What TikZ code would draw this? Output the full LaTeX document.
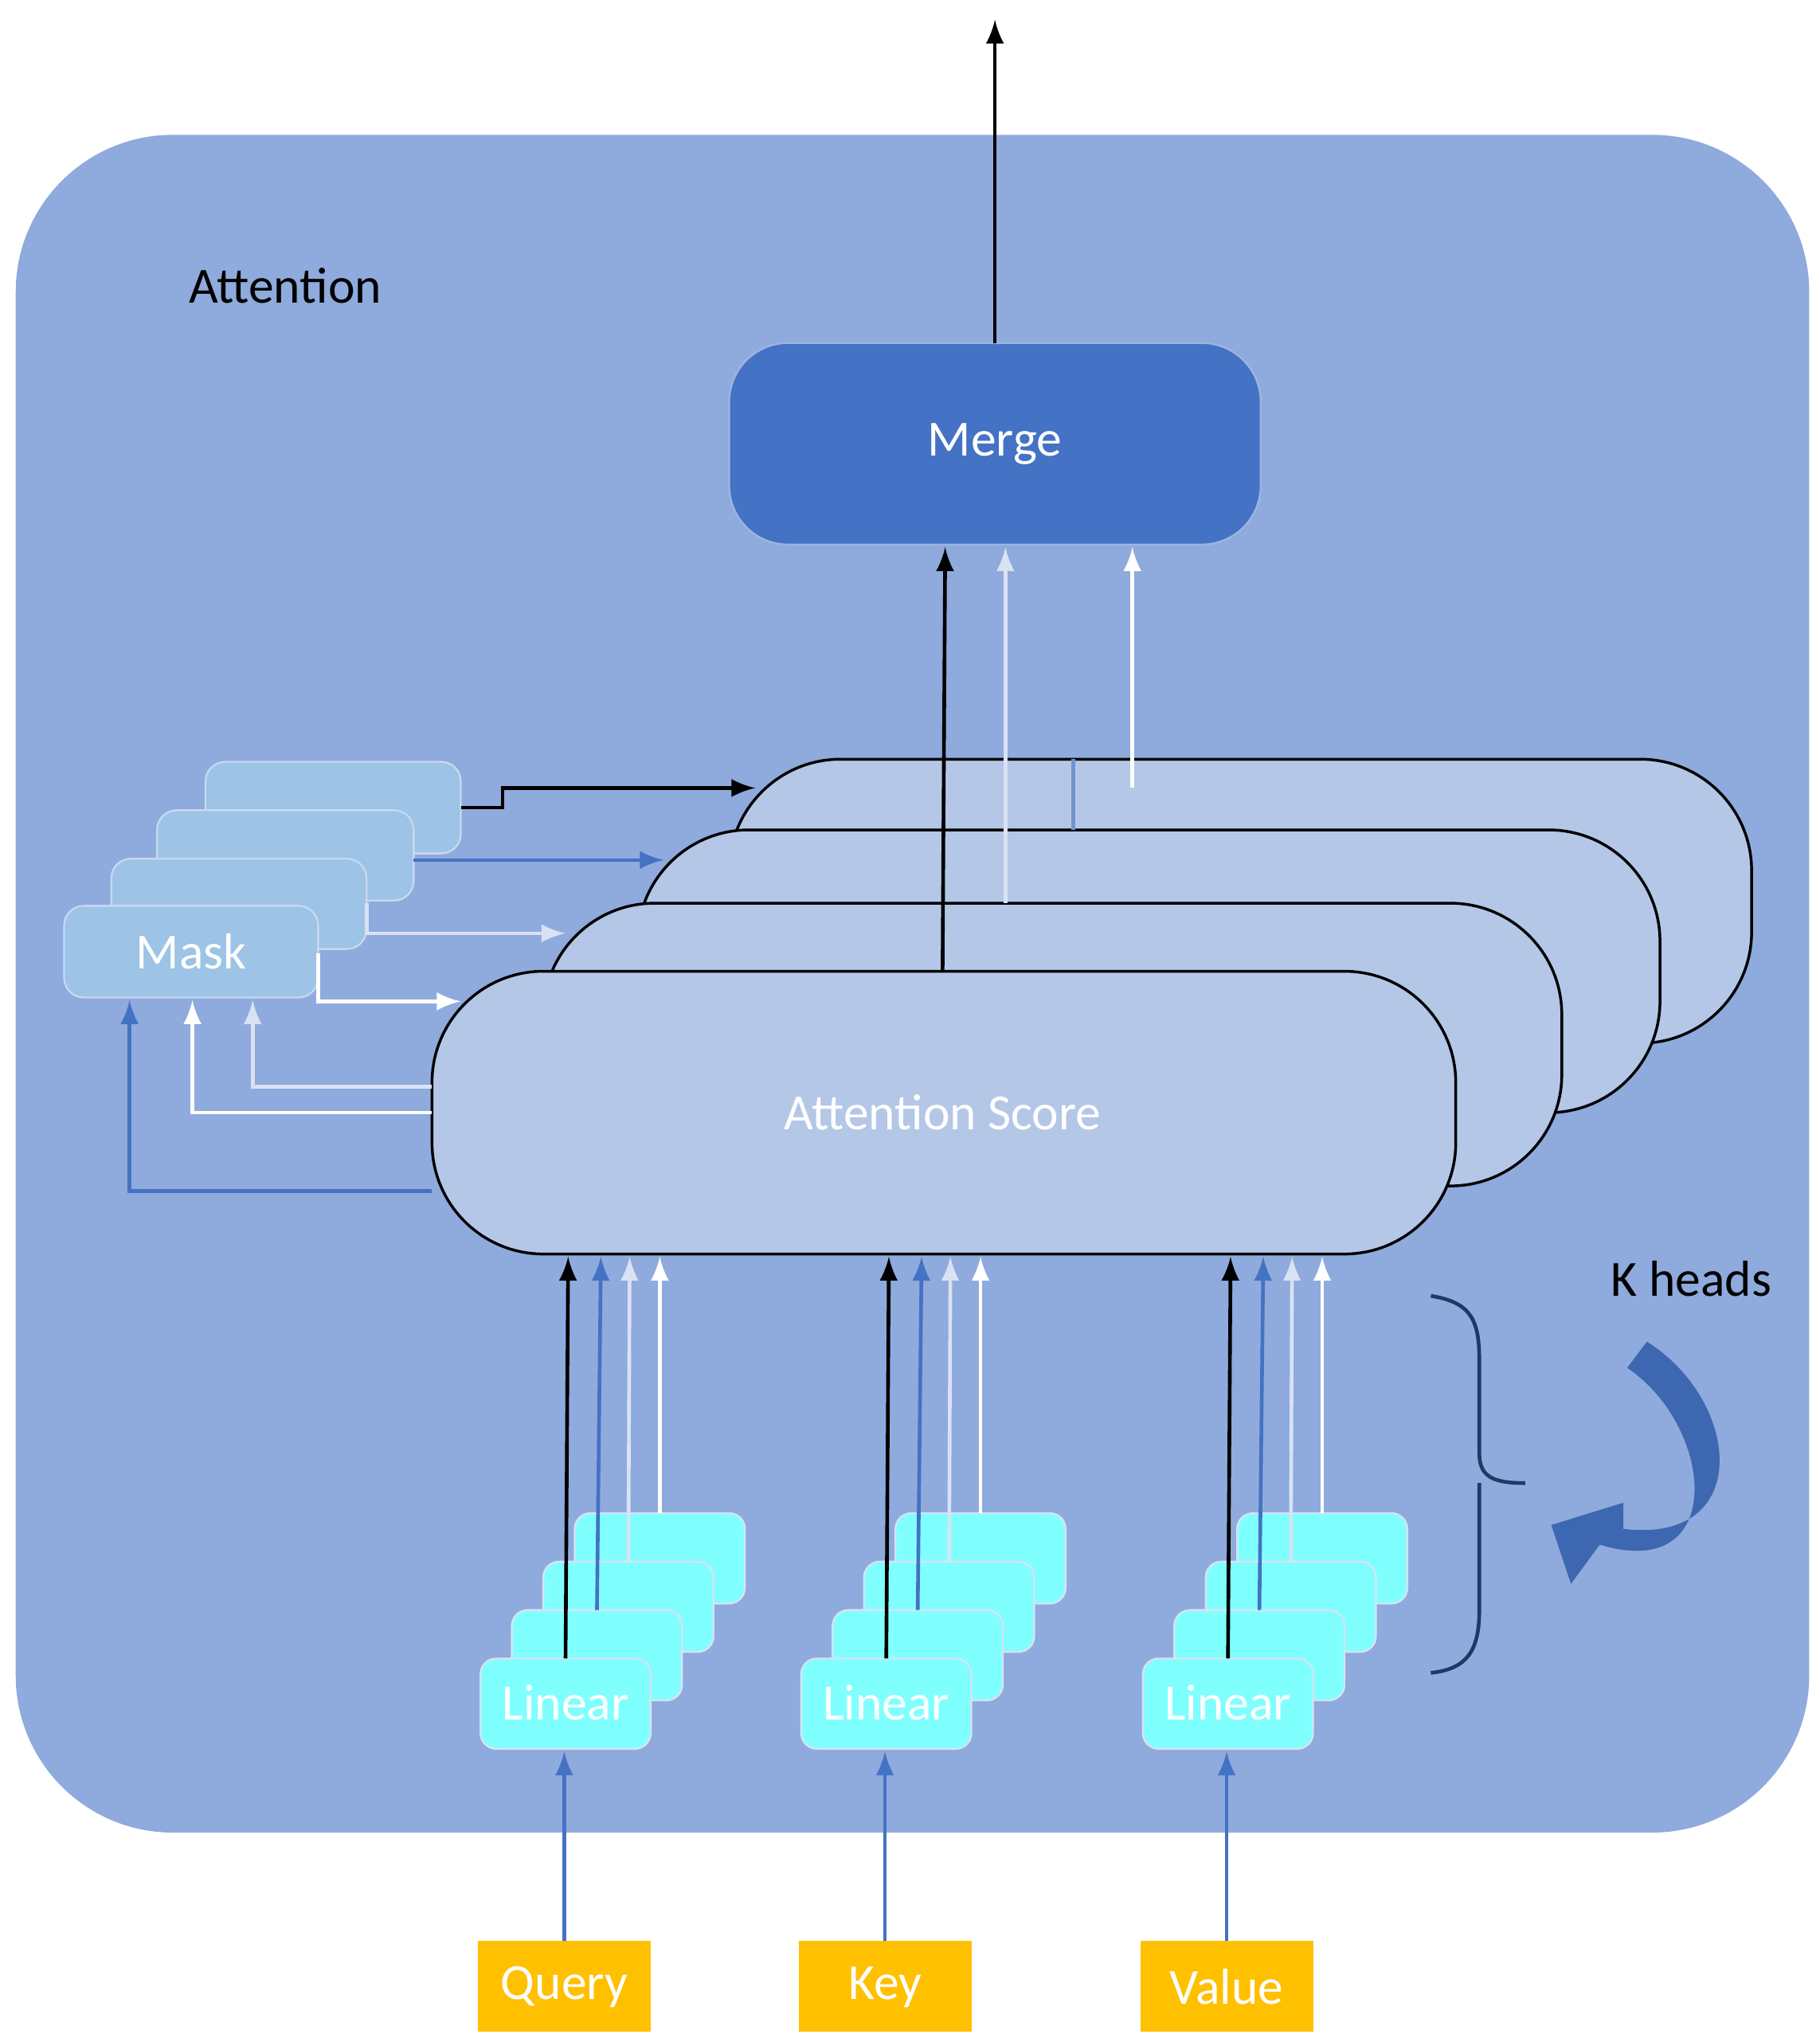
\documentclass[tikz,border=0pt]{standalone}
\usepackage{fontspec}
\setmainfont{Carlito}
\usetikzlibrary{decorations.pathreplacing}
\definecolor{bg}{HTML}{8FAADC}
\definecolor{merge}{HTML}{4472C4}
\definecolor{score}{HTML}{B4C7E7}
\definecolor{mask}{HTML}{9DC3E6}
\definecolor{lin}{HTML}{80FFFF}
\definecolor{inp}{HTML}{FFC000}
\definecolor{ablue}{HTML}{4472C4}
\definecolor{alight}{HTML}{D9E2F3}
\definecolor{navy}{HTML}{1F3864}
\begin{document}
\begin{tikzpicture}[x=0.01cm,y=-0.01cm,
  every node/.style={font=\fontsize{11}{13}\selectfont},
  scorebox/.style={draw=black,fill=score,rounded corners=0.85cm,line width=0.6pt},
  maskbox/.style={fill=mask,draw=alight!70!mask,rounded corners=0.15cm},
  linbox/.style={fill=lin,draw=alight,rounded corners=0.12cm},
  inbox/.style={fill=inp,draw=none},
  arr/.style={-{latex},line width=0.8pt},
  wt/.style={text=white}]
\useasboundingbox (0,0) rectangle (1390,1560);
\fill[bg] (12,103) [rounded corners=1.2cm] rectangle (1382,1400);
\node[anchor=center] (att) at (218,218) {Attention};
% Merge
\draw[fill=merge,draw=alight!60!merge,rounded corners=0.45cm] (557,262) rectangle (963,416);
\node[wt] (merge) at (760,339) {Merge};
\coordinate (out) at (760,15);
\draw[arr,black] (760,262) -- (out);
% score stack
\draw[scorebox] (557,580) rectangle (1338,797);
\draw[scorebox] (487,634) rectangle (1268,850);
\draw[scorebox] (415,690) rectangle (1193,906);
\draw[scorebox] (330,742) rectangle (1112,958);
\node[wt] (score) at (720,850) {Attention Score};
% mask stack
\draw[maskbox] (157,582) rectangle (352,652);
\draw[maskbox] (120,619) rectangle (316,688);
\draw[maskbox] (85,656) rectangle (280,725);
\draw[maskbox] (49,692) rectangle (243,762);
\node[wt] (mask) at (146,727) {Mask};
% mask -> score
\draw[arr,black] (352,617) -- (384,617) -- (384,602) -- (577,602);
\draw[arr,ablue] (316,657) -- (507,657);
\draw[arr,alight] (280,690) -- (280,713) -- (432,713);
\draw[arr,white] (243,728) -- (243,765) -- (352,765);
% score -> mask
\draw[arr,ablue] (330,910) -- (99,910) -- (99,764);
\draw[arr,white] (330,850) -- (147,850) -- (147,764);
\draw[arr,alight] (330,830) -- (193,830) -- (193,764);
% score -> merge
\draw[arr,black] (720,742) -- (722,418);
\draw[arr,alight] (768,690) -- (768,418);
\draw[arr,white] (865,602) -- (865,418);
\draw[ablue!60!score,line width=0.8pt] (820,580) -- (820,634);
% linear stacks + inputs
\foreach \x/\t/\n in {367/Query/q,612/Key/k,873/Value/v}{
  \foreach \i in {3,2,1,0}{
    \draw[linbox] ({\x+24*\i},{1267-37*\i}) rectangle ({\x+24*\i+130},{1336-37*\i});
  }
  \node[wt] (lin\n) at (\x+65,1301) {Linear};
  \fill[inp] (\x-2,1483) rectangle (\x+130,1552);
  \node[wt] (in\n) at (\x+64,1518) {\t};
  \draw[arr,ablue] (\x+64,1483) -- (\x+64,1338);
  \draw[arr,black] (\x+65,1267) -- (\x+67,960);
  \draw[arr,ablue] (\x+89,1230) -- (\x+92,960);
  \draw[arr,alight] (\x+113,1193) -- (\x+114,960);
  \draw[arr,white] (\x+137,1156) -- (\x+137,960);
}
% brace
\draw[navy,line width=0.8pt] (1093,990) .. controls (1125,995) and (1130,1010) .. (1130,1040) -- (1130,1110) .. controls (1130,1128) and (1140,1133) .. (1165,1133);
\draw[navy,line width=0.8pt] (1130,1133) .. controls (1130,1138) and (1130,1150) .. (1130,1160) -- (1130,1230) .. controls (1130,1262) and (1120,1275) .. (1093,1278);
\node (kh) at (1292,977) {K heads};
% curved arrow
\fill[ablue!80!navy] (1258,1025) .. controls (1330,1070) and (1340,1180) .. (1240,1168)
  -- (1240,1148) -- (1185,1165) -- (1200,1210) -- (1222,1180)
  .. controls (1320,1210) and (1310,1090) .. (1243,1045) -- cycle;
\end{tikzpicture}
\end{document}
